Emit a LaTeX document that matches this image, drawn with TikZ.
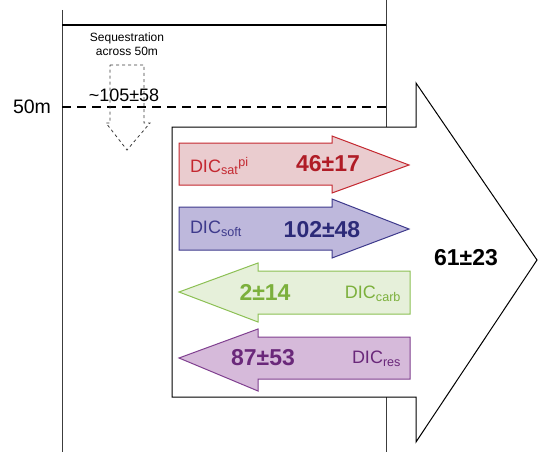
\documentclass[tikz,border=0pt]{standalone}
\usepackage{fontspec}
\setmainfont{Liberation Sans}
\definecolor{redS}{RGB}{196,40,48}
\definecolor{redF}{RGB}{234,204,207}
\definecolor{redT}{RGB}{176,28,38}
\definecolor{bluS}{RGB}{62,58,140}
\definecolor{bluF}{RGB}{190,184,220}
\definecolor{bluT}{RGB}{44,42,120}
\definecolor{grnS}{RGB}{140,192,84}
\definecolor{grnF}{RGB}{230,240,218}
\definecolor{grnT}{RGB}{124,176,60}
\definecolor{purS}{RGB}{128,64,144}
\definecolor{purF}{RGB}{214,186,218}
\definecolor{purT}{RGB}{106,40,122}
\definecolor{lineC}{RGB}{60,60,60}
\begin{document}
\begin{tikzpicture}[x=1pt,y=-1pt,
  every node/.style={inner sep=0pt,outer sep=0pt},
  wall/.style={draw=lineC,line width=1pt},
  flow/.style={line width=1pt,line join=miter},
  lbl/.style={font=\fontsize{18}{20}\selectfont},
  num/.style={font=\fontsize{23}{25}\selectfont\bfseries}]
\useasboundingbox (0,0) rectangle (538,452);
% walls
\draw[wall] (62,10) -- (62,452);
\draw[wall] (386,0) -- (386,452);
\draw[draw=black,line width=1.5pt] (62,25) -- (386,25);
\draw[draw=black,line width=2pt,dash pattern=on 9pt off 6pt] (62,107) -- (386,107);
\node[font=\fontsize{19.5}{21}\selectfont] (depth) at (32,107) {50m};
% sequestration arrow
\node[align=center,font=\fontsize{12}{14}\selectfont] (seq) at (127,44) {Sequestration\\across 50m};
\draw[draw=lineC,line width=0.8pt,dashed] (110,65) -- (144,65) -- (144,123) -- (150,123) -- (127,150) -- (106,123) -- (110,123) -- cycle;
\node[font=\fontsize{18}{20}\selectfont] (seqv) at (124,95) {\textasciitilde105±58};
% big arrow
\draw[draw=black,fill=white,line width=1pt,line join=miter]
  (172,127) -- (416,127) -- (416,83) -- (537,260) -- (416,442) -- (416,397) -- (172,397) -- cycle;
\node[font=\fontsize{23}{25}\selectfont\bfseries] (tot) at (466,258) {61±23};
% red
\draw[flow,draw=redS,fill=redF] (179,143) -- (332,143) -- (332,136) -- (409,165) -- (332,193) -- (332,185) -- (179,185) -- cycle;
\node[lbl,text=redS,anchor=west] (sat) at (190,166) {DIC\textsubscript{sat}\textsuperscript{pi}};
\node[num,text=redT] (satv) at (328,164) {46±17};
% blue
\draw[flow,draw=bluS,fill=bluF] (179,207) -- (332,207) -- (332,199) -- (409,229) -- (332,258) -- (332,250) -- (179,250) -- cycle;
\node[lbl,text=bluS,anchor=west] (soft) at (190,229) {DIC\textsubscript{soft}};
\node[num,text=bluT] (softv) at (322,230) {102±48};
% green
\draw[flow,draw=grnS,fill=grnF] (410,271) -- (258,271) -- (258,263) -- (179,292) -- (258,322) -- (258,314) -- (410,314) -- cycle;
\node[lbl,text=grnT,anchor=east] (carb) at (401,294) {DIC\textsubscript{carb}};
\node[num,text=grnT] (carbv) at (265,292) {2±14};
% purple
\draw[flow,draw=purS,fill=purF] (410,337) -- (258,337) -- (258,329) -- (179,358) -- (258,391) -- (258,379) -- (410,379) -- cycle;
\node[lbl,text=purT,anchor=east] (res) at (401,359) {DIC\textsubscript{res}};
\node[num,text=purT] (resv) at (263,358) {87±53};
\end{tikzpicture}
\end{document}
